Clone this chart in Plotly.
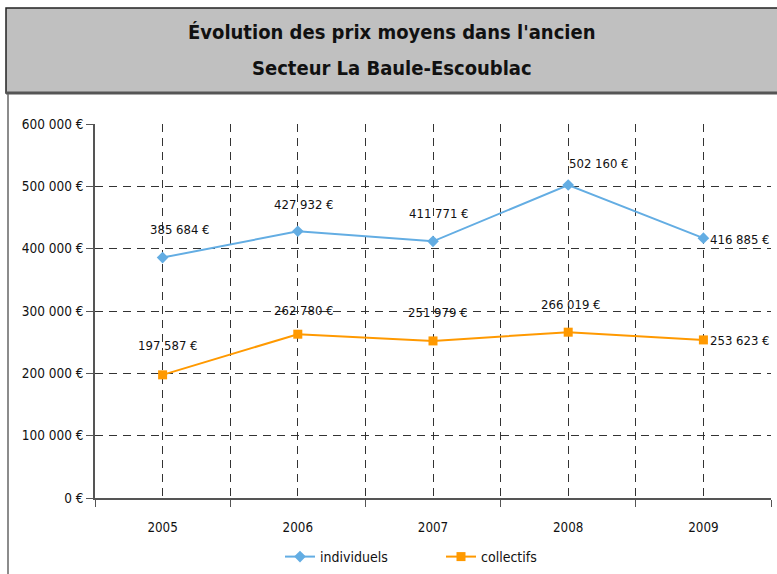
import plotly.graph_objects as go

years = [2005, 2006, 2007, 2008, 2009]
individuels = [385684, 427932, 411771, 502160, 416885]
collectifs = [197587, 262780, 251979, 266019, 253623]
y_ticks = [0, 100000, 200000, 300000, 400000, 500000, 600000]
title_lines = ["Évolution des prix moyens dans l'ancien", "Secteur La Baule-Escoublac"]

W, H = 777, 574
L, R, T, B = 95, 6, 124, 76
FONT = "DejaVu Sans Condensed, DejaVu Sans, sans-serif"
BLUE = "#63ade3"
ORANGE = "#ff9900"
GRID = "#333333"
DASH = "8px,6px"


def px_x(px):
    return (px - L) / (W - L - R)


def px_y(py):
    return (H - B - py) / (H - T - B)


def fmt(v):
    return f"{v:,}".replace(",", " ") + " €"


fig = go.Figure()
fig.add_trace(go.Scatter(
    x=years, y=individuels, name="individuels", mode="lines+markers",
    line=dict(color=BLUE, width=2), marker=dict(symbol="diamond", size=9, color=BLUE),
))
fig.add_trace(go.Scatter(
    x=years, y=collectifs, name="collectifs", mode="lines+markers",
    line=dict(color=ORANGE, width=2), marker=dict(symbol="square", size=9, color=ORANGE),
))

# label offsets (pixels) per point
ind_shift = [(17, 28), (6, 27), (6, 28), (31, 21), (37, -1)]
col_shift = [(5, 29), (6, 24), (5, 28), (3, 28), (37, -1)]
annotations = []
for vals, shifts in ((individuels, ind_shift), (collectifs, col_shift)):
    for yr, v, (dx, dy) in zip(years, vals, shifts):
        annotations.append(dict(
            x=yr, y=v, text=fmt(v), showarrow=False, xshift=dx, yshift=dy,
            xanchor="center", yanchor="middle",
            font=dict(family=FONT, size=13, color="#111111"),
        ))

for line, ypx in zip(title_lines, (32, 68)):
    annotations.append(dict(
        xref="paper", yref="paper", x=px_x(392), y=px_y(ypx),
        text="<b>" + line + "</b>",
        showarrow=False, xanchor="center", yanchor="middle",
        font=dict(family=FONT, size=20, color="#111111"),
    ))

shapes = [
    dict(type="rect", xref="paper", yref="paper", x0=px_x(6), x1=px_x(790), y0=px_y(93), y1=px_y(8),
         fillcolor="#c0c0c0", line=dict(color="#222222", width=1.5), layer="below"),
    dict(type="line", xref="paper", yref="paper", x0=px_x(6), x1=px_x(790), y0=px_y(93), y1=px_y(93),
         line=dict(color="#555555", width=3)),
    dict(type="line", xref="paper", yref="paper", x0=px_x(8), x1=px_x(8), y0=px_y(94), y1=px_y(580),
         line=dict(color="#666666", width=1.5)),
]

fig.update_layout(
    width=W, height=H,
    margin=dict(l=L, r=R, t=T, b=B, autoexpand=False),
    paper_bgcolor="white", plot_bgcolor="white",
    separators=", ",
    font=dict(family=FONT, size=14, color="#111111"),
    showlegend=True,
    legend=dict(orientation="h", x=px_x(280), y=px_y(557), xanchor="left", yanchor="middle",
                entrywidth=116, entrywidthmode="pixels", font=dict(family=FONT, size=14),
                bgcolor="rgba(0,0,0,0)"),
    annotations=annotations,
    shapes=shapes,
)

fig.update_xaxes(
    range=[years[0] - 0.5, years[-1] + 0.5],
    tickvals=years, ticktext=[str(y) for y in years],
    ticks="", showgrid=True, gridcolor=GRID, griddash=DASH, gridwidth=1,
    showline=True, linecolor="#555555", linewidth=1.5, zeroline=False,
    ticklabelstandoff=16,
    minor=dict(tickvals=[y + 0.5 for y in [years[0] - 1] + years], showgrid=True,
               gridcolor=GRID, griddash=DASH, gridwidth=1,
               ticks="outside", ticklen=7, tickcolor="#555555"),
    tickfont=dict(family=FONT, size=13.3),
)
fig.update_yaxes(
    range=[0, 600000], tickvals=y_ticks, ticktext=[fmt(v) for v in y_ticks],
    ticks="outside", ticklen=7, tickcolor="#555555",
    showgrid=True, gridcolor=GRID, griddash=DASH, gridwidth=1,
    showline=True, linecolor="#555555", linewidth=1.5, zeroline=False,
    tickfont=dict(family=FONT, size=13.5),
)

fig.write_html("out.html", config={"displayModeBar": False},
               post_script="document.body.style.margin='0';")
